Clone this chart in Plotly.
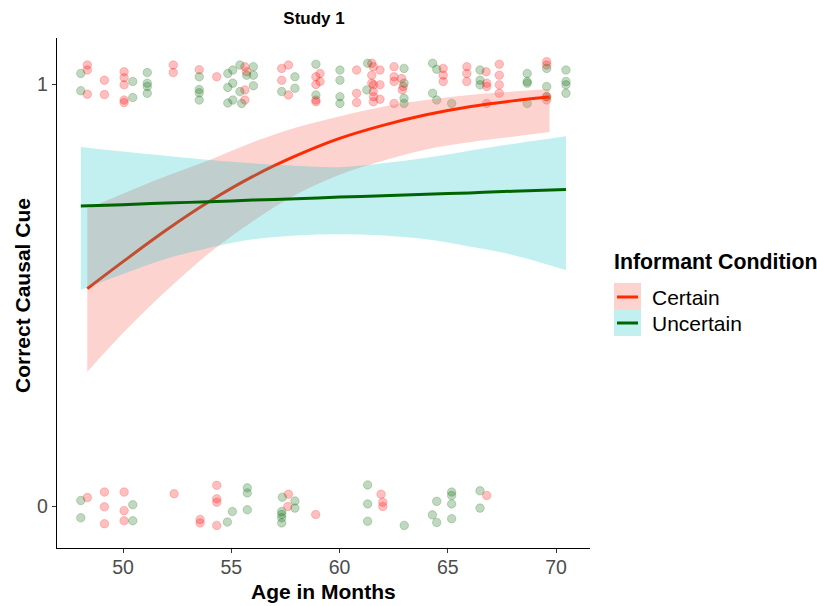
import plotly.graph_objects as go

# ---------------- data ----------------
certain_pts_x = [48.35, 48.35, 48.35, 49.14, 49.14, 50.05, 50.05, 50.05, 50.05, 50.05,
                 52.32, 52.32, 53.52, 54.33, 55.63, 55.71, 55.63, 55.63, 57.33, 57.64,
                 57.33, 57.64, 58.91, 58.91, 58.91, 58.91, 59.10, 59.10, 60.79, 60.79,
                 60.79, 61.49, 61.56, 61.87, 61.49, 61.49, 61.57, 61.87, 61.56, 61.57,
                 61.56, 61.87, 62.52, 62.52, 62.52, 62.87, 62.94, 62.90, 62.52, 64.79,
                 64.79, 64.79, 65.88, 65.88, 65.88, 66.77, 66.80, 66.80, 66.80, 67.38,
                 67.38, 67.38, 67.38, 69.57, 69.57, 69.57, 69.57,
                 # zeros
                 48.35, 49.14, 49.14, 49.14, 50.05, 50.05, 50.05, 52.36, 54.33, 54.33,
                 54.33, 53.56, 53.56, 54.33, 57.64, 57.61, 58.90, 61.92, 62.00, 62.00,
                 66.80]
certain_pts_y = [1.045, 1.033, 0.976, 1.009, 0.975, 1.029, 1.015, 0.998, 0.962, 0.956,
                 1.045, 1.027, 1.034, 1.017, 1.041, 1.029, 0.986, 0.962, 1.037, 1.045,
                 1.009, 0.974, 1.017, 0.999, 0.962, 0.958, 1.025, 1.006, 1.033, 0.978,
                 0.956, 1.049, 1.041, 1.033, 1.021, 1.002, 0.998, 0.998, 0.982, 0.970,
                 0.958, 0.964, 1.041, 1.017, 1.006, 1.013, 0.994, 0.986, 0.954, 1.037,
                 1.021, 1.006, 1.041, 1.025, 1.006, 1.029, 1.002, 0.994, 0.954, 1.047,
                 1.021, 0.998, 0.978, 1.053, 1.045, 0.970, 0.962,
                 0.020, 0.033, -0.002, -0.042, 0.033, -0.011, -0.035, 0.029, 0.049, 0.017,
                 0.009, -0.032, -0.040, -0.046, 0.028, -0.001, -0.020, 0.028, 0.009, -0.001,
                 0.025]

uncertain_pts_x = [48.05, 48.05, 50.45, 50.45, 51.12, 51.12, 51.12, 51.12, 53.52, 53.52,
                   53.52, 53.52, 54.84, 55.07, 54.84, 55.07, 54.84, 55.07, 55.40, 56.02,
                   55.71, 56.02, 55.40, 56.02, 55.48, 57.33, 57.94, 57.94, 58.91, 58.91,
                   60.02, 60.02, 60.02, 60.02, 61.30, 61.26, 62.98, 62.98, 62.98, 62.98,
                   64.30, 64.49, 64.30, 64.49, 65.18, 66.49, 66.49, 66.49, 68.67, 68.67,
                   68.67, 68.67, 69.57, 69.57, 69.57, 70.46, 70.46, 70.46, 70.46,
                   # zeros
                   48.05, 48.05, 50.45, 50.45, 54.82, 55.05, 55.74, 55.74, 55.74, 57.36,
                   57.94, 57.94, 57.33, 57.33, 57.33, 57.33, 61.30, 61.30, 61.30, 62.99,
                   64.49, 65.18, 65.18, 65.18, 64.29, 64.49, 65.18, 66.49, 66.49]
uncertain_pts_y = [1.025, 0.984, 1.006, 0.968, 1.027, 1.002, 0.994, 0.978, 1.017, 0.987,
                   0.979, 0.962, 1.025, 1.033, 0.992, 1.002, 0.955, 0.962, 1.045, 1.041,
                   1.021, 1.021, 0.982, 0.996, 0.954, 0.982, 1.017, 0.990, 1.047, 0.974,
                   1.033, 1.009, 0.970, 0.954, 1.049, 0.986, 1.037, 1.002, 0.966, 0.954,
                   1.049, 1.035, 0.978, 0.962, 0.954, 1.033, 1.009, 0.998, 1.025, 1.006,
                   1.002, 0.954, 1.037, 0.994, 0.970, 1.033, 1.006, 0.998, 0.978,
                   0.013, -0.028, 0.003, -0.035, -0.038, -0.013, 0.043, 0.031, -0.009, 0.021,
                   0.012, -0.005, -0.013, -0.020, -0.028, -0.040, 0.050, 0.005, -0.036, -0.046,
                   0.011, 0.033, 0.025, 0.005, -0.021, -0.039, -0.030, 0.036, -0.005]

certain_fit_x = [48.35, 50, 52, 54, 56, 58, 60, 62, 64, 66, 68, 69.7]
certain_fit_y = [0.515, 0.579, 0.654, 0.722, 0.781, 0.830, 0.871, 0.902, 0.927, 0.946, 0.960, 0.969]
certain_lo = [0.318, 0.410, 0.510, 0.600, 0.675, 0.738, 0.785, 0.818, 0.845, 0.862, 0.875, 0.886]
certain_hi = [0.705, 0.740, 0.782, 0.820, 0.862, 0.897, 0.923, 0.946, 0.962, 0.974, 0.982, 0.988]

uncertain_fit_x = [48.05, 50, 52, 54, 56, 58, 60, 62, 64, 66, 68, 70.46]
uncertain_fit_y = [0.711, 0.714, 0.718, 0.721, 0.725, 0.728, 0.732, 0.735, 0.739, 0.742, 0.746, 0.750]
uncertain_lo = [0.512, 0.550, 0.586, 0.612, 0.632, 0.641, 0.644, 0.641, 0.632, 0.615, 0.595, 0.559]
uncertain_hi = [0.851, 0.840, 0.830, 0.820, 0.812, 0.806, 0.803, 0.812, 0.825, 0.842, 0.858, 0.876]

x_ticks = [50, 55, 60, 65, 70]
y_ticks = [0, 1]

# ---------------- styles ----------------
FONT = "Liberation Sans, Arial, Helvetica, sans-serif"
RED_PT = "rgba(255,0,0,0.25)"
GRN_PT = "rgba(0,100,0,0.25)"
RED_BAND = "rgba(248,118,109,0.32)"
TEAL_BAND = "rgba(0,191,196,0.24)"
RED_LINE = "#FF2A00"
GRN_LINE = "#006400"

fig = go.Figure()

fig.add_trace(go.Scatter(x=certain_pts_x, y=certain_pts_y, mode="markers",
                         marker=dict(size=8.5, color=RED_PT, line=dict(width=0.8, color=RED_PT)),
                         showlegend=False, hoverinfo="skip"))
fig.add_trace(go.Scatter(x=uncertain_pts_x, y=uncertain_pts_y, mode="markers",
                         marker=dict(size=8.5, color=GRN_PT, line=dict(width=0.8, color=GRN_PT)),
                         showlegend=False, hoverinfo="skip"))

# Certain ribbon + line
fig.add_trace(go.Scatter(x=certain_fit_x, y=certain_lo, mode="lines", line=dict(width=0, shape="spline"),
                         showlegend=False, hoverinfo="skip"))
fig.add_trace(go.Scatter(x=certain_fit_x, y=certain_hi, mode="lines", line=dict(width=0, shape="spline"),
                         fill="tonexty", fillcolor=RED_BAND, showlegend=False, hoverinfo="skip"))
fig.add_trace(go.Scatter(x=certain_fit_x, y=certain_fit_y, mode="lines",
                         line=dict(width=3, color=RED_LINE, shape="spline"), showlegend=False))

# Uncertain ribbon + line
fig.add_trace(go.Scatter(x=uncertain_fit_x, y=uncertain_lo, mode="lines", line=dict(width=0, shape="spline"),
                         showlegend=False, hoverinfo="skip"))
fig.add_trace(go.Scatter(x=uncertain_fit_x, y=uncertain_hi, mode="lines", line=dict(width=0, shape="spline"),
                         fill="tonexty", fillcolor=TEAL_BAND, showlegend=False, hoverinfo="skip"))
fig.add_trace(go.Scatter(x=uncertain_fit_x, y=uncertain_fit_y, mode="lines",
                         line=dict(width=3, color=GRN_LINE, shape="spline"), showlegend=False))

L, R, T, B = 57, 227, 38, 58
W, H = 817, 606
pw, ph = W - L - R, H - T - B

def px(xp):
    return (xp - L) / pw

def py(yp):
    return (H - B - yp) / ph

# manual legend
shapes = [
    dict(type="rect", xref="paper", yref="paper", x0=px(614), x1=px(641), y0=py(310), y1=py(283),
         fillcolor=RED_BAND, line=dict(width=0), layer="above"),
    dict(type="rect", xref="paper", yref="paper", x0=px(614), x1=px(641), y0=py(336), y1=py(310),
         fillcolor=TEAL_BAND, line=dict(width=0), layer="above"),
    dict(type="line", xref="paper", yref="paper", x0=px(617), x1=px(638), y0=py(297), y1=py(297),
         line=dict(width=3, color=RED_LINE), layer="above"),
    dict(type="line", xref="paper", yref="paper", x0=px(617), x1=px(638), y0=py(323), y1=py(323),
         line=dict(width=3, color=GRN_LINE), layer="above"),
]
annotations = [
    dict(text="<b>Informant Condition</b>", xref="paper", yref="paper", x=px(612), y=py(262),
         xanchor="left", yanchor="middle", showarrow=False, font=dict(size=21.3, color="black", family=FONT)),
    dict(text="Certain", xref="paper", yref="paper", x=px(650), y=py(297),
         xanchor="left", yanchor="middle", showarrow=False, font=dict(size=21, color="black", family=FONT)),
    dict(text="Uncertain", xref="paper", yref="paper", x=px(650), y=py(323),
         xanchor="left", yanchor="middle", showarrow=False, font=dict(size=21, color="black", family=FONT)),
    dict(text="<b>Age in Months</b>", xref="paper", yref="paper", x=px(323), y=py(591),
         xanchor="center", yanchor="middle", showarrow=False, font=dict(size=21, color="black", family=FONT)),
    dict(text="<b>Correct Causal Cue</b>", xref="paper", yref="paper", x=px(22), y=py(296),
         xanchor="center", yanchor="middle", textangle=-90, showarrow=False,
         font=dict(size=21, color="black", family=FONT)),
]

fig.update_layout(
    width=W, height=H,
    margin=dict(l=L, r=R, t=T, b=B, autoexpand=False),
    paper_bgcolor="white", plot_bgcolor="white",
    font=dict(family=FONT, color="black"),
    title=dict(text="<b>Study 1</b>", x=314 / W, xanchor="center", xref="container",
               y=1 - 18 / H, yanchor="middle", font=dict(size=17, color="black", family=FONT)),
    xaxis=dict(range=[46.95, 71.57], tickvals=x_ticks, ticktext=[str(v) for v in x_ticks],
               automargin=False, ticklabelstandoff=-3,
               showgrid=False, zeroline=False, showline=True, linecolor="black", linewidth=1.3,
               ticks="outside", ticklen=4, tickwidth=1.1, tickcolor="#333333",
               tickfont=dict(size=19.5, color="#4D4D4D", family=FONT)),
    yaxis=dict(range=[-0.0995, 1.109], tickvals=y_ticks, ticktext=[str(v) for v in y_ticks],
               automargin=False,
               showgrid=False, zeroline=False, showline=True, linecolor="black", linewidth=1.3,
               ticks="outside", ticklen=4, tickwidth=1.1, tickcolor="#333333",
               tickfont=dict(size=19.5, color="#4D4D4D", family=FONT)),
    shapes=shapes, annotations=annotations, showlegend=False,
)

fig.write_html("out.html", config={"displayModeBar": False},
               post_script="document.body.style.margin='0px';document.body.style.padding='0px';")
